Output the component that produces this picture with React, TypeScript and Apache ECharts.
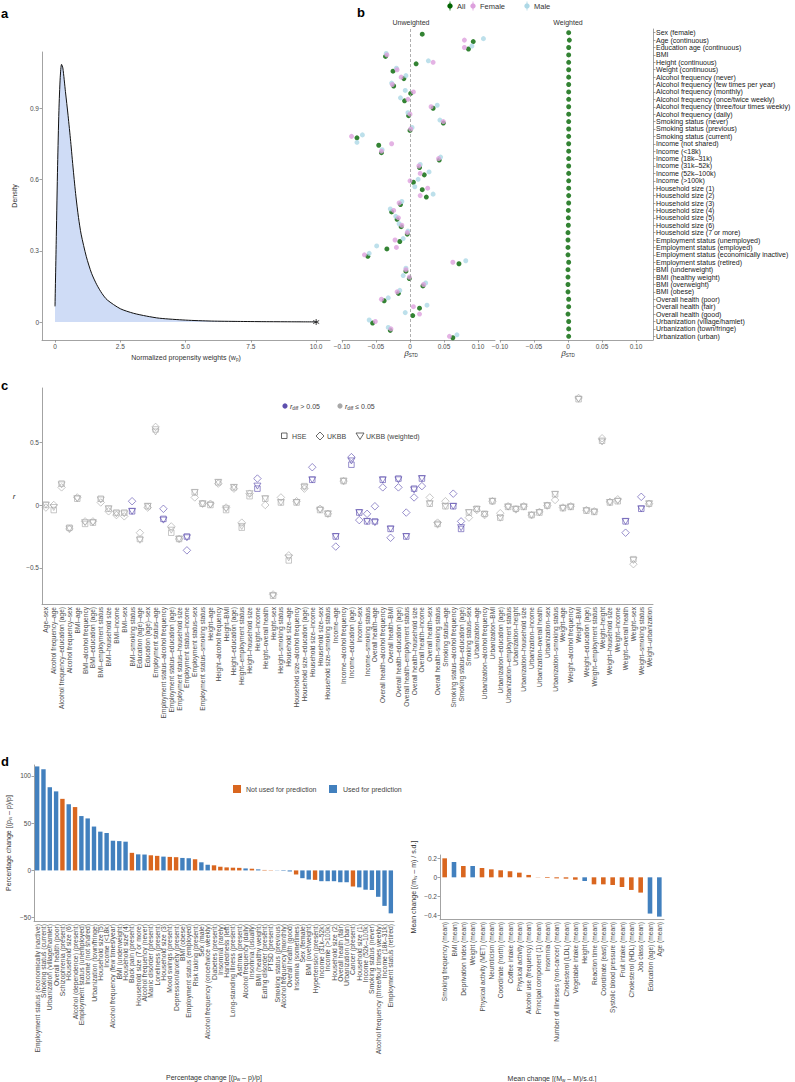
import React, { useEffect, useRef } from "react";
import * as echarts from "echarts";

const FONT = "'Liberation Sans', Arial, sans-serif";
const AX = "#8c8c8c";
const TXT = "#4d4d4d";

// ---------- Panel a: density of normalized propensity weights ----------
const densityX = [0, 0.05, 0.1, 0.15, 0.2, 0.25, 0.3, 0.4, 0.5, 0.6, 0.7, 0.8, 0.9, 1.0, 1.2, 1.4, 1.6, 1.8, 2.0, 2.5, 3.0, 3.5, 4.0, 5.0, 6.0, 7.0, 8.0, 9.0, 10.0];
const densityY = [0.066, 0.36, 0.66, 0.89, 1.03, 1.085, 1.07, 0.97, 0.87, 0.76, 0.64, 0.53, 0.44, 0.37, 0.275, 0.205, 0.157, 0.12, 0.093, 0.056, 0.037, 0.025, 0.016, 0.008, 0.004, 0.0025, 0.0015, 0.001, 0.0005];
const aXTicks = [0, 2.5, 5, 7.5, 10];
const aYTicks = [0, 0.3, 0.6, 0.9];

// ---------- Panel b: standardized betas ----------
const bLabels = ["Sex (female)", "Age (continuous)", "Education age (continuous)", "BMI", "Height (continuous)", "Weight (continuous)", "Alcohol frequency (never)", "Alcohol frequency (few times per year)", "Alcohol frequency (monthly)", "Alcohol frequency (once/twice weekly)", "Alcohol frequency (three/four times weekly)", "Alcohol frequency (daily)", "Smoking status (never)", "Smoking status (previous)", "Smoking status (current)", "Income (not shared)", "Income (<18k)", "Income (18k–31k)", "Income (31k–52k)", "Income (52k–100k)", "Income (>100k)", "Household size (1)", "Household size (2)", "Household size (3)", "Household size (4)", "Household size (5)", "Household size (6)", "Household size (7 or more)", "Employment status (unemployed)", "Employment status (employed)", "Employment status (economically inactive)", "Employment status (retired)", "BMI (underweight)", "BMI (healthy weight)", "BMI (overweight)", "BMI (obese)", "Overall health (poor)", "Overall health (fair)", "Overall health (good)", "Urbanization (village/hamlet)", "Urbanization (town/fringe)", "Urbanization (urban)"];
const bAll = [0.018, 0.093, 0.086, -0.036, 0.009, -0.025, -0.009, -0.024, 0.001, -0.008, 0.034, -0.002, 0.049, 0.0, -0.078, -0.046, -0.042, 0.043, 0.014, 0.021, 0.005, 0.018, 0.024, -0.014, -0.027, -0.019, -0.013, -0.004, -0.015, -0.034, -0.062, 0.072, -0.006, -0.001, 0.019, -0.017, -0.038, 0.014, 0.004, -0.055, -0.029, 0.063];
const bFemale = [null, 0.08, 0.08, -0.034, 0.034, -0.019, -0.013, -0.026, 0.005, -0.003, 0.031, 0.0, 0.049, 0.001, -0.086, -0.027, -0.042, 0.042, 0.013, 0.015, 0.0, 0.026, 0.015, -0.016, -0.024, -0.017, -0.012, -0.004, -0.022, -0.02, -0.067, 0.063, -0.006, -0.001, 0.02, -0.019, -0.042, 0.005, 0.014, -0.051, -0.028, 0.058];
const bMale = [null, 0.108, 0.091, -0.035, 0.027, -0.02, -0.006, -0.027, -0.007, -0.014, 0.04, -0.003, 0.044, 0.003, -0.07, -0.078, -0.041, 0.045, 0.015, 0.028, 0.012, 0.007, 0.034, -0.012, -0.029, -0.021, -0.016, -0.003, -0.01, -0.049, -0.06, 0.082, -0.006, -0.01, 0.023, -0.015, -0.032, 0.025, -0.007, -0.06, -0.032, 0.069];
const bWeighted = [0.001, 0.002, 0.001, 0.001, 0.001, 0.001, 0.001, 0.001, 0.001, 0.001, 0.001, 0.001, 0.001, 0.001, 0.001, 0.001, 0.001, 0.001, 0.001, 0.001, 0.001, 0.001, 0.001, 0.001, 0.0005, 0.0005, 0.0005, 0, 0, 0, 0, 0.001, 0, 0, 0, 0, 0.001, 0.001, 0, 0.001, 0.001, 0.001];
const bTicks = [-0.1, -0.05, 0, 0.05, 0.1];

// ---------- Panel c: correlations ----------
const cLabels = ["Age–sex", "Alcohol frequency–age", "Alcohol frequency–education (age)", "Alcohol frequency–sex", "BMI–age", "BMI–alcohol frequency", "BMI–education (age)", "BMI–employment status", "BMI–household size", "BMI–income", "BMI–sex", "BMI–smoking status", "Education (age)–age", "Education (age)–sex", "Employment status–age", "Employment status–alcohol frequency", "Employment status–education (age)", "Employment status–household size", "Employment status–income", "Employment status–sex", "Employment status–smoking status", "Height–age", "Height–alcohol frequency", "Height–BMI", "Height–education (age)", "Height–employment status", "Height–household size", "Height–income", "Height–overall health", "Height–sex", "Height–smoking status", "Household size–age", "Household size–alcohol frequency", "Household size–education (age)", "Household size–income", "Household size–sex", "Household size–smoking status", "Income–age", "Income–alcohol frequency", "Income–education (age)", "Income–sex", "Income–smoking status", "Overall health–age", "Overall health–alcohol frequency", "Overall health–BMI", "Overall health–education (age)", "Overall health–employment status", "Overall health–household size", "Overall health–income", "Overall health–sex", "Overall health–smoking status", "Smoking status–age", "Smoking status–alcohol frequency", "Smoking status–education (age)", "Smoking status–sex", "Urbanization–age", "Urbanization–alcohol frequency", "Urbanization–BMI", "Urbanization–education (age)", "Urbanization–employment status", "Urbanization–height", "Urbanization–household size", "Urbanization–income", "Urbanization–overall health", "Urbanization–sex", "Urbanization–smoking status", "Weight–age", "Weight–alcohol frequency", "Weight–BMI", "Weight–education (age)", "Weight–employment status", "Weight–height", "Weight–household size", "Weight–income", "Weight–overall health", "Weight–sex", "Weight–smoking status", "Weight–urbanization"];
const cHSE = [0.0, -0.04, 0.17, -0.18, 0.05, -0.15, -0.14, 0.05, -0.03, -0.06, -0.06, -0.05, -0.27, -0.01, 0.6, -0.11, -0.22, -0.27, -0.25, 0.1, 0.01, 0.0, 0.18, -0.04, 0.14, -0.18, 0.07, 0.13, 0.05, -0.72, 0.02, -0.44, 0.02, 0.15, 0.2, -0.04, -0.07, -0.25, 0.19, 0.32, -0.06, -0.13, -0.13, 0.2, -0.19, 0.21, -0.25, 0.13, 0.21, 0.01, -0.15, -0.01, -0.01, -0.19, -0.06, -0.03, -0.07, 0.03, -0.1, -0.015, -0.03, -0.015, -0.08, -0.06, -0.005, 0.085, -0.025, -0.015, 0.84, -0.045, -0.055, 0.51, 0.02, 0.03, -0.13, -0.43, -0.03, 0.01];
const cUKBB = [-0.02, 0.0, 0.14, -0.19, 0.06, -0.13, -0.13, 0.02, -0.05, -0.08, -0.09, 0.03, -0.22, -0.02, 0.62, -0.03, -0.17, -0.27, -0.36, 0.06, 0.01, 0.01, 0.17, -0.02, 0.13, -0.14, 0.09, 0.21, 0.0, -0.71, 0.06, -0.4, 0.03, 0.13, 0.3, -0.03, -0.07, -0.33, 0.19, 0.38, -0.12, -0.07, -0.01, 0.14, -0.26, 0.14, -0.06, 0.06, 0.15, 0.06, -0.14, 0.03, 0.09, -0.13, -0.1, -0.04, -0.08, 0.03, -0.065, -0.01, -0.035, -0.01, -0.08, -0.055, -0.005, 0.04, -0.02, -0.01, 0.85, -0.04, -0.05, 0.53, 0.025, 0.045, -0.22, -0.47, 0.065, 0.01];
const cUKBBw = [0.0, -0.02, 0.16, -0.19, 0.05, -0.14, -0.14, 0.04, -0.03, -0.07, -0.07, -0.05, -0.28, -0.01, 0.58, -0.12, -0.2, -0.27, -0.26, 0.1, 0.01, 0.0, 0.18, -0.03, 0.14, -0.17, 0.09, 0.15, 0.05, -0.72, 0.02, -0.42, 0.02, 0.14, 0.2, -0.04, -0.07, -0.25, 0.19, 0.35, -0.06, -0.13, -0.14, 0.2, -0.19, 0.2, -0.25, 0.12, 0.21, 0.01, -0.16, -0.01, -0.01, -0.18, -0.06, -0.035, -0.075, 0.03, -0.105, -0.015, -0.035, -0.015, -0.08, -0.06, -0.005, 0.085, -0.025, -0.015, 0.84, -0.045, -0.055, 0.5, 0.02, 0.03, -0.13, -0.44, -0.03, 0.01];
const cHigh = [0, 0, 0, 0, 0, 0, 0, 0, 0, 0, 0, 1, 0, 0, 0, 1, 0, 0, 1, 0, 0, 0, 0, 0, 0, 0, 0, 1, 0, 0, 0, 0, 0, 0, 1, 0, 0, 1, 0, 1, 1, 1, 1, 1, 1, 1, 1, 1, 1, 0, 0, 0, 1, 1, 0, 0, 0, 0, 0, 0, 0, 0, 0, 0, 0, 0, 0, 0, 0, 0, 0, 0, 0, 0, 1, 0, 1, 0];
const cTicks = [-0.5, 0, 0.5];

// ---------- Panel d: percentage change and mean change ----------
const dLabels = ["Employment status (economically inactive)", "Smoking status (current)", "Urbanization (village/hamlet)", "Overall health (poor)", "Schizophrenia (present)", "Household size (6)", "Alcohol (dependence) (present)", "Employment status (unemployed)", "Income (not shared)", "Urbanization (town/fringe)", "Household size (5)", "Income (<18k)", "Alcohol frequency (few times/year)", "BMI (underweight)", "Household size (4)", "Back pain (present)", "Household size (7 or more)", "Alcohol frequency (never)", "Manic disorder (present)", "Loneliness (present)", "Household size (3)", "Mood swings (present)", "Depression/anxiety (present)", "BMI (obese)", "Employment status (employed)", "Risk taking (present)", "Sex (male)", "Alcohol frequency (once/twice weekly)", "Diabetes (present)", "Insomnia (rarely)", "Handedness (left)", "Long-standing illness (present)", "Asthma (present)", "Alcohol frequency (daily)", "Insomnia (usually)", "BMI (healthy weight)", "Eating disorder (present)", "PTSD (present)", "Smoking status (previous)", "Alcohol frequency (monthly)", "Overall health (good)", "Insomnia (sometimes)", "Sex (female)", "BMI (overweight)", "Hypertension (present)", "Income (31k–52k)", "Income (>100k)", "Household size (2)", "Overall health (fair)", "Urbanization (urban)", "Cancer (present)", "Household size (1)", "Income (52k–100k)", "Smoking status (never)", "Alcohol frequency (three/four times weekly)", "Income (18k–31k)", "Employment status (retired)"];
const dValues = [110, 107, 88, 83.6, 75.7, 70, 67, 57.5, 55, 46.4, 41, 39.6, 31.4, 31, 30.4, 18.6, 17, 16.8, 16, 15.4, 14.6, 14.3, 14, 13.2, 12.9, 11.8, 8.6, 6, 5.4, 3.9, 3.2, 2.9, 2.7, 2.1, 1.8, 1.1, 0.5, 0.3, 0.2, -0.5, -1.1, -4.3, -8.2, -9.6, -10, -11.4, -11.4, -11.4, -12.5, -12.5, -17, -17.9, -20.4, -20.7, -27.9, -37.5, -45.4];
const dUsed = [1, 1, 1, 1, 0, 1, 0, 1, 1, 1, 1, 1, 1, 1, 1, 0, 1, 1, 0, 0, 1, 0, 0, 1, 1, 0, 1, 1, 0, 0, 0, 0, 0, 1, 0, 1, 0, 0, 1, 1, 1, 0, 1, 1, 0, 1, 1, 1, 1, 1, 0, 1, 1, 1, 1, 1, 1];
const dTicks = [-50, 0, 50, 100];
const mLabels = ["Smoking frequency (mean)", "BMI (mean)", "Deprivation index (mean)", "Weight (mean)", "Physical activity (MET) (mean)", "Neuroticism (mean)", "Coordinate (north) (mean)", "Coffee intake (mean)", "Physical activity (mean)", "Alcohol use (frequency) (mean)", "Principal component (1) (mean)", "Insomnia (mean)", "Number of illnesses (non-cancer) (mean)", "Cholesterol (LDL) (mean)", "Vegetable intake (mean)", "Height (mean)", "Reaction time (mean)", "Coordinate (east) (mean)", "Systolic blood pressure (mean)", "Fruit intake (mean)", "Cholesterol (HDL) (mean)", "Job class (mean)", "Education (age) (mean)", "Age (mean)"];
const mValues = [0.2, 0.161, 0.119, 0.119, 0.098, 0.084, 0.074, 0.063, 0.049, 0.025, -0.002, -0.007, -0.011, -0.014, -0.025, -0.039, -0.074, -0.074, -0.081, -0.102, -0.133, -0.161, -0.382, -0.414];
const mUsed = [0, 1, 0, 1, 0, 0, 0, 0, 0, 0, 0, 0, 0, 0, 0, 1, 0, 0, 0, 0, 0, 0, 1, 1];
const mTicks = [-0.4, -0.2, 0, 0.2];

const GREEN = "#006400";
const PINK = "#DDA0DD";
const CYAN = "#ADD8E6";
const PURPLE = "#5d4fae";
const GRAY = "#a8a8a8";
const ORANGE = "#D9661F";
const BLUE = "#4280BE";

const minus = (s: string) => s.replace("-", "−");
const fmt = (d: number) => (v: number) => (v === 0 ? "0" : minus(v.toFixed(d)));

const lineStyle = { color: AX, width: 0.8 };
function valAxis(gridIndex: number, min: number, max: number, ticks: number[], formatter: any, extra: any = {}) {
  return {
    type: "value",
    gridIndex,
    min,
    max,
    axisLine: { show: true, onZero: false, lineStyle },
    axisTick: { show: true, length: 2.5, lineStyle, customValues: ticks },
    axisLabel: { show: true, fontSize: 6.5, color: TXT, margin: 3, fontFamily: FONT, customValues: ticks, formatter },
    splitLine: { show: false },
    ...extra,
  };
}
function catAxis(gridIndex: number, data: string[], fontSize: number) {
  return {
    type: "category",
    gridIndex,
    data,
    axisLine: { show: true, onZero: false, lineStyle },
    axisTick: { show: false },
    axisLabel: { show: true, interval: 0, rotate: 90, fontSize, color: TXT, margin: 3, fontFamily: FONT },
    splitLine: { show: false },
  };
}

function buildOption() {
  const grids = [
    { left: 42, top: 52, width: 288, height: 288 },
    { left: 342, top: 29, width: 153, height: 311 },
    { left: 500, top: 29, width: 153, height: 311 },
    { left: 42, top: 388, width: 611, height: 216 },
    { left: 34, top: 765, width: 360, height: 156 },
    { left: 440, top: 855, width: 224, height: 64 },
  ].map((g) => ({ ...g, containLabel: false, outerBoundsMode: "none", show: false }));

  const xAxis = [
    valAxis(0, -0.498, 10.53, aXTicks, (v: number) => (v === 0 ? "0" : v.toFixed(1))),
    valAxis(1, -0.1, 0.125, bTicks, fmt(2)),
    valAxis(2, -0.1, 0.125, bTicks, fmt(2)),
    catAxis(3, cLabels, 6.6),
    catAxis(4, dLabels, 6.8),
    catAxis(5, mLabels, 6.6),
  ];

  const yAxis = [
    valAxis(0, -0.0757, 1.137, aYTicks, (v: number) => (v === 0 ? "0" : v.toFixed(1))),
    { type: "value", gridIndex: 1, min: 0, max: 42, inverse: true, show: false },
    { type: "value", gridIndex: 2, min: 0, max: 42, inverse: true, show: false },
    {
      type: "category",
      gridIndex: 2,
      position: "right",
      inverse: true,
      data: bLabels,
      axisLine: { show: true, lineStyle },
      axisTick: { show: true, length: 2.5, lineStyle, alignWithLabel: true },
      axisLabel: { show: true, interval: 0, fontSize: 7, color: "#1a1a1a", margin: 3, fontFamily: FONT },
      splitLine: { show: false },
    },
    valAxis(3, -0.786, 0.929, cTicks, fmt(1)),
    valAxis(4, -53.5, 111.5, dTicks, (v: number) => minus(String(v))),
    valAxis(5, -0.439, 0.235, mTicks, fmt(1)),
  ];

  const off = { all: 0.2, female: 0, male: -0.2 };
  const pts = (arr: (number | null)[], o: number) =>
    arr.map((v, i) => (v === null ? null : [v, i + 0.5 + o])).filter((p) => p !== null);

  const cItems = (arr: number[]) =>
    arr.map((v, i) => ({ value: [i, v], itemStyle: { borderColor: cHigh[i] ? PURPLE : GRAY } }));
  const cSeriesBase = {
    type: "scatter",
    xAxisIndex: 3,
    yAxisIndex: 4,
    itemStyle: { color: "rgba(0,0,0,0)", borderWidth: 0.8 },
    silent: true,
  };

  const series: any[] = [
    {
      type: "line",
      xAxisIndex: 0,
      yAxisIndex: 0,
      data: densityX.map((x, i) => [x, densityY[i]]),
      smooth: 0.25,
      showSymbol: false,
      symbol: "none",
      lineStyle: { color: "#111", width: 1 },
      areaStyle: { color: "#cfdcf6", opacity: 1 },
      silent: true,
    },
    {
      type: "scatter",
      xAxisIndex: 0,
      yAxisIndex: 0,
      data: [[10, 0]],
      symbol: "path://M0,-5L0,5M-4.3,-2.5L4.3,2.5M-4.3,2.5L4.3,-2.5",
      symbolSize: 6,
      itemStyle: { color: "rgba(0,0,0,0)", borderColor: "#111", borderWidth: 1 },
      silent: true,
    },
    {
      type: "scatter",
      xAxisIndex: 1,
      yAxisIndex: 1,
      data: pts(bAll, off.all),
      symbolSize: 5,
      itemStyle: { color: GREEN },
      silent: true,
      markLine: {
        silent: true,
        symbol: "none",
        label: { show: false },
        lineStyle: { type: [3, 2], color: "#9a9a9a", width: 0.8 },
        data: [{ xAxis: 0 }],
      },
    },
    { type: "scatter", xAxisIndex: 1, yAxisIndex: 1, data: pts(bMale, off.male), symbolSize: 5, itemStyle: { color: CYAN }, silent: true },
    { type: "scatter", xAxisIndex: 1, yAxisIndex: 1, data: pts(bFemale, off.female), symbolSize: 5, itemStyle: { color: PINK }, silent: true },
    { type: "scatter", xAxisIndex: 2, yAxisIndex: 2, data: pts(bWeighted, 0), symbolSize: 5, itemStyle: { color: GREEN }, silent: true },
    { ...cSeriesBase, data: cItems(cHSE), symbol: "rect", symbolSize: 5.5 },
    { ...cSeriesBase, data: cItems(cUKBB), symbol: "diamond", symbolSize: 7.5 },
    { ...cSeriesBase, data: cItems(cUKBBw), symbol: "triangle", symbolRotate: 180, symbolSize: [7, 6] },
    {
      type: "bar",
      xAxisIndex: 4,
      yAxisIndex: 5,
      barWidth: 4.4,
      data: dValues.map((v, i) => ({ value: v, itemStyle: { color: dUsed[i] ? BLUE : ORANGE } })),
      silent: true,
    },
    {
      type: "bar",
      xAxisIndex: 5,
      yAxisIndex: 6,
      barWidth: 4.6,
      data: mValues.map((v, i) => ({ value: v, itemStyle: { color: mUsed[i] ? BLUE : ORANGE } })),
      silent: true,
    },
  ];

  const subRich = {
    i: { fontStyle: "italic", fontSize: 7, fill: "#333", fontFamily: FONT },
    ib: { fontStyle: "italic", fontSize: 8, fill: "#333", fontFamily: FONT },
    s: { fontSize: 4.6, fill: "#333", verticalAlign: "bottom", lineHeight: 9, fontFamily: FONT },
  };
  const txt = (x: number, y: number, text: string, extra: any = {}, rotation = 0) => ({
    type: "text",
    x,
    y,
    rotation,
    silent: true,
    style: { text, fontSize: 7, fontFamily: FONT, fill: "#333", align: "left", verticalAlign: "middle", rich: subRich, ...extra },
  });
  const panelLabel = (x: number, y: number, t: string) =>
    txt(x, y, t, { fontSize: 13, fontWeight: "bold", fill: "#000" });
  const ctr = { align: "center" };
  const ROT = Math.PI / 2;

  const graphic: any[] = [
    panelLabel(1, 13, "a"),
    panelLabel(357, 12, "b"),
    panelLabel(1, 385, "c"),
    panelLabel(1, 761, "d"),
    // axis titles
    txt(186, 357, "Normalized propensity weights (w{s|p})", ctr),
    txt(14, 196, "Density", ctr, ROT),
    txt(411, 353, "{ib|β}{s|STD}", ctr),
    txt(568, 353, "{ib|β}{s|STD}", ctr),
    txt(14, 496, "{ib|r}", ctr),
    txt(8, 843, "Percentage change [(p{s|w} – p)/p]", ctr, ROT),
    txt(214, 1077, "Percentage change [(p{s|w} – p)/p]", ctr),
    txt(413, 887, "Mean change [(m{s|w} – m) / s.d.]", ctr, ROT),
    txt(552, 1078, "Mean change [(M{s|w} – M)/s.d.]", ctr),
    // panel b legend
    { type: "line", silent: true, shape: { x1: 450, y1: 1.5, x2: 450, y2: 10.5 }, style: { stroke: GREEN, lineWidth: 0.8 } },
    { type: "circle", silent: true, shape: { cx: 450, cy: 6, r: 2.7 }, style: { fill: GREEN } },
    txt(457, 6.5, "All", { fontSize: 7.5 }),
    { type: "line", silent: true, shape: { x1: 473, y1: 1.5, x2: 473, y2: 10.5 }, style: { stroke: PINK, lineWidth: 0.8 } },
    { type: "circle", silent: true, shape: { cx: 473, cy: 6, r: 2.7 }, style: { fill: PINK } },
    txt(480, 6.5, "Female", { fontSize: 7.5 }),
    { type: "line", silent: true, shape: { x1: 527, y1: 1.5, x2: 527, y2: 10.5 }, style: { stroke: CYAN, lineWidth: 0.8 } },
    { type: "circle", silent: true, shape: { cx: 527, cy: 6, r: 2.7 }, style: { fill: CYAN } },
    txt(534, 6.5, "Male", { fontSize: 7.5 }),
    txt(411, 22, "Unweighted", ctr),
    txt(568, 22, "Weighted", ctr),
    // panel c legend
    { type: "circle", silent: true, shape: { cx: 285, cy: 406, r: 2.6 }, style: { fill: PURPLE } },
    txt(290, 406, "{i|r}{s|diff} > 0.05", { fill: "#444" }),
    { type: "circle", silent: true, shape: { cx: 340, cy: 406, r: 2.6 }, style: { fill: GRAY } },
    txt(345, 406, "{i|r}{s|diff} ≤ 0.05", { fill: "#444" }),
    { type: "rect", silent: true, shape: { x: 281.5, y: 433, width: 5.5, height: 5.5 }, style: { fill: "none", stroke: "#444", lineWidth: 0.8 } },
    txt(292, 436, "HSE", { fill: "#444" }),
    { type: "polygon", silent: true, shape: { points: [[320, 432], [324, 436], [320, 440], [316, 436]] }, style: { fill: "none", stroke: "#444", lineWidth: 0.8 } },
    txt(327, 436, "UKBB", { fill: "#444" }),
    { type: "polygon", silent: true, shape: { points: [[356, 433], [364, 433], [360, 439.5]] }, style: { fill: "none", stroke: "#444", lineWidth: 0.8 } },
    txt(366, 436, "UKBB (weighted)", { fill: "#444" }),
    // panel d legend
    { type: "rect", silent: true, shape: { x: 233, y: 785, width: 8, height: 8 }, style: { fill: ORANGE } },
    txt(246, 789, "Not used for prediction", { fill: "#444" }),
    { type: "rect", silent: true, shape: { x: 329, y: 785, width: 8, height: 8 }, style: { fill: BLUE } },
    txt(343, 789, "Used for prediction", { fill: "#444" }),
  ];

  return {
    animation: false,
    backgroundColor: "#ffffff",
    textStyle: { fontFamily: FONT },
    grid: grids,
    xAxis,
    yAxis,
    series,
    graphic,
  };
}

export default function App() {
  const ref = useRef<HTMLDivElement>(null);
  useEffect(() => {
    if (!ref.current) return;
    const chart = echarts.init(ref.current, null, { renderer: "svg" });
    chart.setOption(buildOption() as any);
    return () => chart.dispose();
  }, []);
  return <div ref={ref} style={{ position: "absolute", left: 0, top: 0, width: 795, height: 1082, background: "#fff" }} />;
}
